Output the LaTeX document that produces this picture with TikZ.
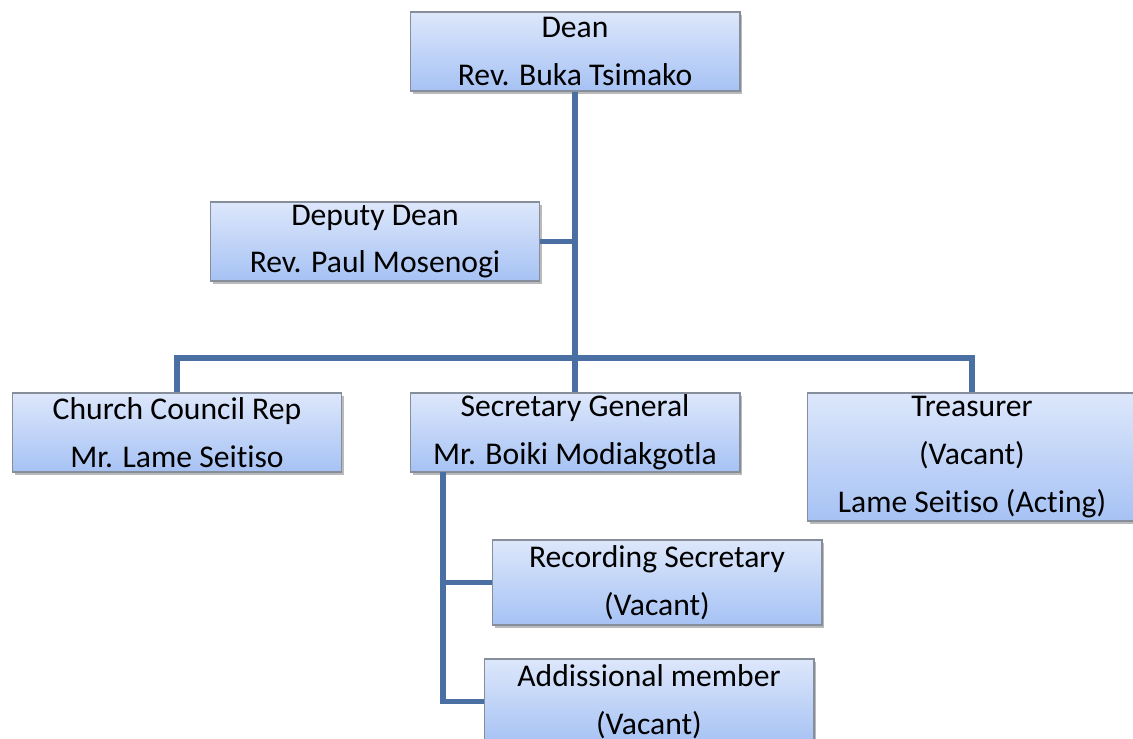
\documentclass[tikz,border=0pt]{standalone}
\usepackage{fontspec}
\setmainfont{Carlito}[Ligatures=NoCommon]
\usetikzlibrary{shadows}
\definecolor{boxtop}{HTML}{DDE7FB}
\definecolor{boxbot}{HTML}{A6C2F4}
\definecolor{boxline}{HTML}{868E9B}
\definecolor{linkblue}{HTML}{4A6FA2}
\begin{document}
\begin{tikzpicture}[x=0.02cm, y=-0.02cm,
  post/.style={rectangle, draw=boxline, line width=0.6pt, top color=boxtop, bottom color=boxbot,
    minimum width=6.6cm, minimum height=1.58cm, inner sep=0pt, align=center,
    drop shadow={shadow xshift=0.05cm, shadow yshift=-0.06cm, opacity=0.45, fill=black!60}},
  link/.style={draw=linkblue, line width=0.105cm}]
        \tikzstyle{every node}=[font=\fontsize{18}{27.2}\selectfont]
        \useasboundingbox (0,0) rectangle (1133,738);

          \node[post] (dean) at (575,51.5) {Dean\\Rev. Buka Tsimako};
          \node[post] (deputy) at (375,241.5) {Deputy Dean\\Rev. Paul Mosenogi};
          \node[post] (church) at (177,432.5) {Church Council Rep\\Mr. Lame Seitiso};
          \node[post] (sgen) at (575,432.5) {Secretary General\\Mr. Boiki Modiakgotla};
          \node[post, minimum height=2.56cm] (treas) at (972,457) {Treasurer\\(Vacant)\\Lame Seitiso (Acting)};
          \node[post, minimum height=1.7cm] (rec) at (657,582.5) {Recording Secretary\\(Vacant)};
          \node[post, minimum height=1.7cm] (add) at (649,701.5) {Addissional member\\(Vacant)};

          \coordinate (hub) at (575,358);
          \coordinate (sgleg) at (443,472);

          \draw[link] (dean.south) -- (sgen.north);
          \draw[link] (deputy.east) -- (deputy.east -| dean.south);
          \draw[link] (church.north) -- (church.north |- hub) -- (treas.north |- hub) -- (treas.north);
          \draw[link] (sgleg) |- (add.west);
          \draw[link] (rec.west) -- (rec.west -| sgleg);

        \end{tikzpicture}
\end{document}
